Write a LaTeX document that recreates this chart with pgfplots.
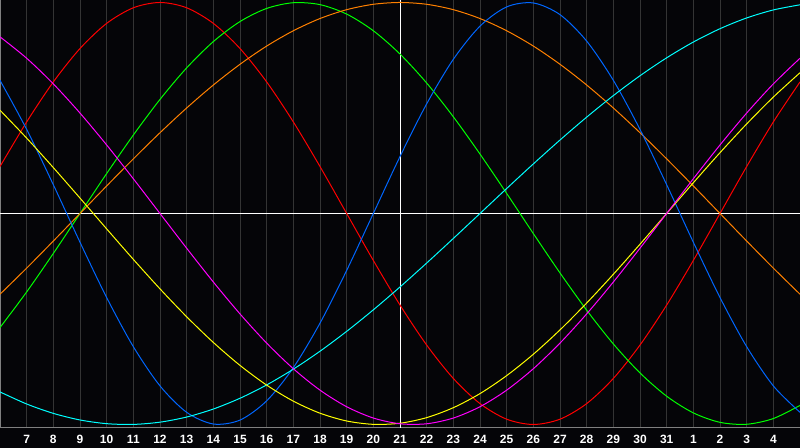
\documentclass[border=0pt]{standalone}
\usepackage{pgfplots}
\pgfplotsset{compat=1.18}
\usepackage{pgfplotstable}
\usepackage{fontspec}
\setmainfont{Liberation Sans}

\definecolor{bg}{RGB}{5,5,8}
\definecolor{gridc}{RGB}{52,52,52}
\definecolor{frame}{RGB}{128,128,128}
\definecolor{cred}{RGB}{255,0,0}
\definecolor{cgreen}{RGB}{0,255,0}
\definecolor{cblue}{RGB}{0,102,255}
\definecolor{corange}{RGB}{255,128,0}
\definecolor{ccyan}{RGB}{0,255,255}
\definecolor{cmag}{RGB}{255,0,255}
\definecolor{cyel}{RGB}{255,255,0}

% day index (0..30), one column per cycle
\pgfplotstableread{
t  blue    red     green   magenta yellow  orange  cyan
0  0.6311  0.2225  -0.5406 0.8372  0.4894  -0.3827 -0.8456
1  0.3984  0.4339  -0.3717 0.7357  0.3572  -0.2588 -0.9028
2  0.1362  0.6235  -0.1893 0.6142  0.2174  -0.1305 -0.9473
3  -0.1362 0.7818  0       0.4759  0.0730  0       -0.9786
4  -0.3984 0.9010  0.1893  0.3247  -0.0730 0.1305  -0.9961
5  -0.6311 0.9749  0.3717  0.1646  -0.2174 0.2588  -0.9996
6  -0.8170 1       0.5406  0       -0.3572 0.3827  -0.9890
7  -0.9423 0.9749  0.6901  -0.1646 -0.4894 0.5     -0.9646
8  -0.9977 0.9010  0.8146  -0.3247 -0.6111 0.6088  -0.9267
9  -0.9791 0.7818  0.9096  -0.4759 -0.7199 0.7071  -0.8757
10 -0.8879 0.6235  0.9718  -0.6142 -0.8133 0.7934  -0.8125
11 -0.7308 0.4339  0.9989  -0.7357 -0.8894 0.8660  -0.7378
12 -0.5196 0.2225  0.9898  -0.8372 -0.9465 0.9239  -0.6528
13 -0.2698 0       0.9450  -0.9158 -0.9834 0.9659  -0.5586
14 0       -0.2225 0.8660  -0.9694 -0.9993 0.9914  -0.4566
15 0.2698  -0.4339 0.7557  -0.9966 -0.9940 1       -0.3482
16 0.5196  -0.6235 0.6182  -0.9966 -0.9675 0.9914  -0.2349
17 0.7308  -0.7818 0.4582  -0.9694 -0.9203 0.9659  -0.1183
18 0.8879  -0.9010 0.2817  -0.9158 -0.8536 0.9239  0
19 0.9791  -0.9749 0.0951  -0.8372 -0.7684 0.8660  0.1183
20 0.9977  -1      -0.0951 -0.7357 -0.6671 0.7934  0.2349
21 0.9423  -0.9749 -0.2817 -0.6142 -0.5517 0.7071  0.3482
22 0.8170  -0.9010 -0.4582 -0.4759 -0.4244 0.6088  0.4566
23 0.6311  -0.7818 -0.6182 -0.3247 -0.2881 0.5     0.5586
24 0.3984  -0.6235 -0.7557 -0.1646 -0.1456 0.3827  0.6528
25 0.1362  -0.4339 -0.8660 0       0       0.2588  0.7378
26 -0.1362 -0.2225 -0.9450 0.1646  0.1456  0.1305  0.8125
27 -0.3984 0       -0.9898 0.3247  0.2881  0       0.8757
28 -0.6311 0.2225  -0.9989 0.4759  0.4244  -0.1305 0.9267
29 -0.8170 0.4339  -0.9718 0.6142  0.5517  -0.2588 0.9646
30 -0.9423 0.6235  -0.9096 0.7357  0.6671  -0.3827 0.9890
}\cycles

\begin{document}
\begin{tikzpicture}[x=1pt,y=1pt]
\useasboundingbox (0,-15) rectangle (600,321);
\fill[bg] (0,-15) rectangle (600,321);
\begin{axis}[
  at={(0,0)}, anchor=south west,
  width=600pt, height=321pt, scale only axis,
  xmin=0, xmax=30, ymin=-1.0166, ymax=1.0118,
  xtick={1,...,29},
  xticklabels={7,8,9,10,11,12,13,14,15,16,17,18,19,20,21,22,23,24,25,26,27,28,29,30,31,1,2,3,4},
  ytick=\empty,
  xmajorgrids,
  major grid style={gridc, line width=0.75pt},
  major tick length=0pt,
  axis line style={frame, line width=0.75pt},
  xticklabel style={text=white, font=\bfseries\fontsize{9}{10}\selectfont, anchor=base, yshift=-11.6pt},
  extra x ticks={15}, extra x tick labels={},
  extra x tick style={grid=major, major grid style={white, line width=0.75pt}},
  extra y ticks={0}, extra y tick labels={},
  extra y tick style={grid=major, major grid style={white, line width=0.75pt}},
  every axis plot/.append style={line width=0.75pt, smooth, no markers},
]
\addplot[cred]    table[x=t, y=red]     {\cycles};
\addplot[cgreen]  table[x=t, y=green]   {\cycles};
\addplot[corange] table[x=t, y=orange]  {\cycles};
\addplot[cblue]   table[x=t, y=blue]    {\cycles};
\addplot[ccyan]   table[x=t, y=cyan]    {\cycles};
\addplot[cyel]    table[x=t, y=yellow]  {\cycles};
\addplot[cmag]    table[x=t, y=magenta] {\cycles};
\end{axis}
\end{tikzpicture}
\end{document}
